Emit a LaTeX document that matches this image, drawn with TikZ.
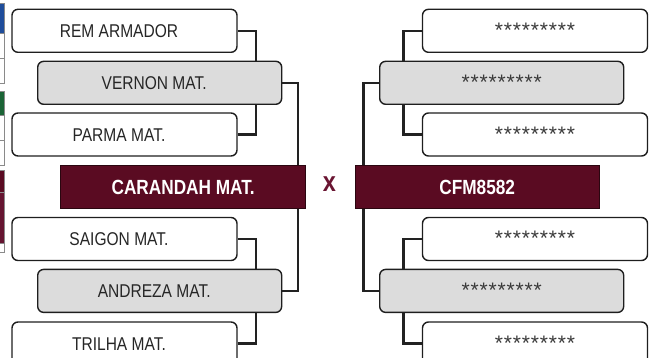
\documentclass[tikz,border=0pt]{standalone}
\usepackage{fontspec}
\setmainfont{Liberation Sans}[FakeStretch=0.84]
\newfontfamily\starfont{Liberation Sans}
\definecolor{boxline}{HTML}{1E1E1E}
\definecolor{boxgray}{HTML}{DCDCDC}
\definecolor{txt}{HTML}{262626}
\definecolor{startxt}{HTML}{3A3A3A}
\definecolor{maroon}{HTML}{5A0B22}
\definecolor{maroonb}{HTML}{651430}
\definecolor{finline}{HTML}{2A0610}
\definecolor{xcol}{HTML}{6A1532}
\definecolor{linkc}{HTML}{222222}
\definecolor{stripblue}{HTML}{1F4D9B}
\definecolor{stripgreen}{HTML}{1B6436}
\definecolor{stripline}{HTML}{8A8A8A}
\newcommand\ninestars{{\starfont\fontsize{21}{21}\selectfont\color{startxt}\foreach \i in {1,...,9}{\makebox[9pt]{*}}}}
\newcommand\lsh[1]{\hspace*{-11pt}#1}
\begin{document}
\begin{tikzpicture}[x=1pt,y=-1pt,
  box/.style={draw=boxline, line width=1.4pt, rounded corners=6pt, fill=white,
    minimum height=43pt, inner sep=0pt, text height=13.4pt, text depth=0pt,
    font=\fontsize{18.5}{18.5}\selectfont, text=txt},
  wbox/.style={box, minimum width=225pt},
  gbox/.style={box, fill=boxgray, minimum width=244pt},
  final/.style={draw=finline, line width=1pt, fill=maroon, minimum width=245pt,
    minimum height=43pt, inner sep=0pt, text height=14.6pt, text depth=0pt,
    font=\bfseries\fontsize{20.5}{20.5}\selectfont, text=white},
  link/.style={line width=2.4pt, draw=linkc},
  strip/.style={draw=stripline, line width=0.8pt}]
\useasboundingbox (0,0) rectangle (656,358);

% cut-off strip at the left edge
\draw[strip, fill=stripblue] (-2,3) rectangle (4.5,33);
\draw[strip, fill=white] (-2,33) rectangle (4.5,58);
\draw[strip, fill=white] (-2,58) rectangle (4.5,83);
\draw[strip, fill=stripgreen] (-2,91) rectangle (4.5,115);
\draw[strip, fill=white] (-2,115) rectangle (4.5,140);
\draw[strip, fill=white] (-2,140) rectangle (4.5,165);
\draw[strip, fill=maroon] (-2,170) rectangle (4.5,192);
\draw[strip, fill=maroonb] (-2,192) rectangle (4.5,243);
\draw[strip, fill=white] (-2,243) rectangle (4.5,252);

% left bracket
\node[wbox] (rem) at (124.5,30.8) {\lsh{REM ARMADOR}};
\node[gbox] (vernon) at (159.7,82.8) {\lsh{VERNON MAT.}};
\node[wbox] (parma) at (124.5,134.5) {\lsh{PARMA MAT.}};
\node[final] (carandah) at (183.2,187.3) {CARANDAH MAT.};
\node[wbox] (saigon) at (124.5,239) {\lsh{SAIGON MAT.}};
\node[gbox] (andreza) at (159.7,290.9) {\lsh{ANDREZA MAT.}};
\node[wbox] (trilha) at (124.5,343.5) {\lsh{TRILHA MAT.}};

% versus
\node[font=\bfseries\fontsize{28}{28}\selectfont, text=xcol, inner sep=0pt] (vs) at (329.3,184.5) {x};

% right bracket
\node[wbox] (r1) at (535,30.8) {\ninestars};
\node[gbox] (r2) at (501.7,82.8) {\ninestars};
\node[wbox] (r3) at (535,134.5) {\ninestars};
\node[final, minimum width=244.3pt] (cfm) at (477.2,187.3) {CFM8582};
\node[wbox] (r4) at (535,239) {\ninestars};
\node[gbox] (r5) at (501.7,290.9) {\ninestars};
\node[wbox] (r6) at (535,343.5) {\ninestars};

% connector columns
\coordinate (cL) at (256,0);
\coordinate (cM) at (297.7,0);
\coordinate (cR) at (403.3,0);
\coordinate (cN) at (363.3,0);

\draw[link] (rem.east) -| (cL |- vernon.north);
\draw[link] (parma.east) -| (cL |- vernon.south);
\draw[link] (vernon.east) -| (cM |- carandah.north);
\draw[link] (saigon.east) -| (cL |- andreza.north);
\draw[link] (trilha.east) -| (cL |- andreza.south);
\draw[link] (andreza.east) -| (cM |- carandah.south);

\draw[link] (r1.west) -| (cR |- r2.north);
\draw[link] (r3.west) -| (cR |- r2.south);
\draw[link] (r2.west) -| (cN |- cfm.north);
\draw[link] (r4.west) -| (cR |- r5.north);
\draw[link] (r6.west) -| (cR |- r5.south);
\draw[link] (r5.west) -| (cN |- cfm.south);
\end{tikzpicture}
\end{document}
